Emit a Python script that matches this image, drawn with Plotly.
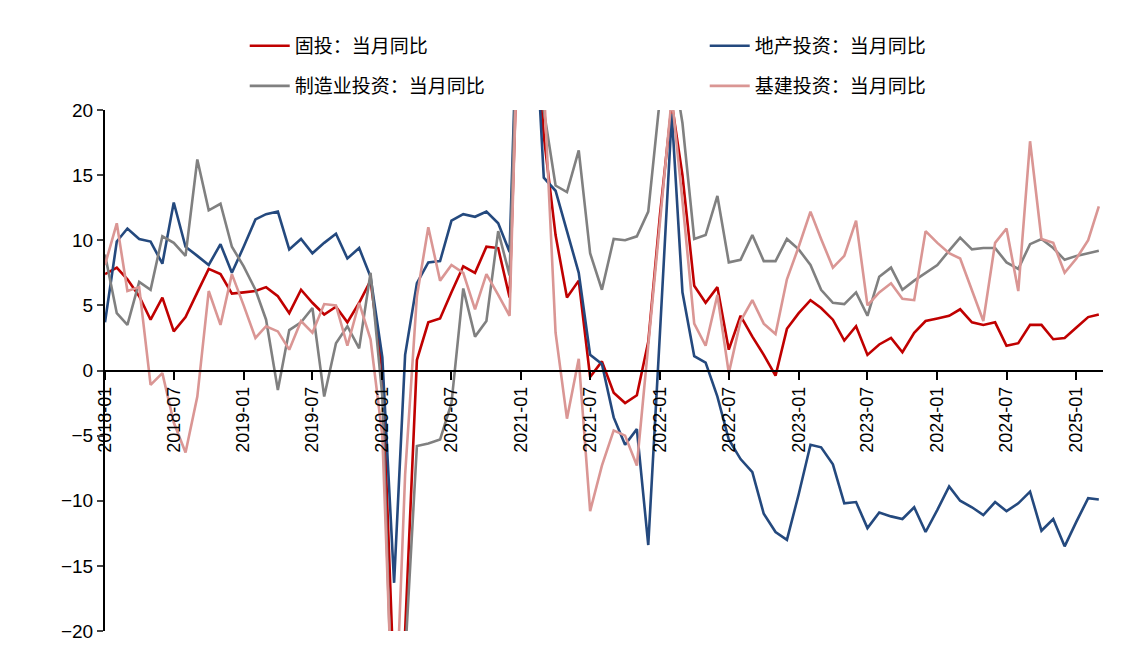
import pandas as pd
import plotly.graph_objects as go

months = pd.date_range("2018-01-01", periods=87, freq="MS")

fai = [7.4,7.9,7.0,5.7,3.9,5.6,3.0,4.1,6.0,7.8,7.4,5.9,
       6.0,6.1,6.4,5.7,4.4,6.2,5.2,4.3,4.9,3.7,5.2,6.9,
       0.0,-24.5,-20,0.8,3.7,4.0,6.0,8.0,7.5,9.5,9.4,5.6,
       35,30,18,10.4,5.6,6.9,-0.5,0.7,-1.7,-2.5,-1.9,2.2,
       12,20.5,15,6.5,5.2,6.4,1.6,4.2,2.6,1.2,-0.4,3.2,
       4.4,5.4,4.8,3.9,2.3,3.4,1.2,2.0,2.5,1.4,2.9,3.8,
       4.0,4.2,4.7,3.7,3.5,3.7,1.9,2.1,3.5,3.5,2.4,2.5,
       3.3,4.1,4.3]
prop = [3.7,9.9,10.9,10.1,9.9,8.2,12.9,9.5,8.8,8.1,9.7,7.5,
        9.5,11.6,12.0,12.2,9.3,10.1,9.0,9.8,10.5,8.6,9.4,7.2,
        1.0,-16.3,1.2,6.7,8.3,8.4,11.5,12.0,11.8,12.2,11.3,9.1,
        38,30,14.8,13.8,10.7,7.5,1.2,0.5,-3.6,-5.7,-4.5,-13.4,
        3,19.7,6.0,1.1,0.6,-2.0,-5.3,-6.8,-7.8,-11.0,-12.4,-13.0,
        -9.5,-5.7,-5.9,-7.2,-10.2,-10.1,-12.1,-10.9,-11.2,-11.4,-10.5,-12.4,
        -10.7,-8.9,-10.0,-10.5,-11.1,-10.1,-10.8,-10.2,-9.3,-12.3,-11.4,-13.5,
        -11.6,-9.8,-9.9]
manu = [8.9,4.4,3.5,6.8,6.2,10.3,9.8,8.8,16.2,12.3,12.8,9.5,
        8.0,6.2,3.9,-1.5,3.1,3.7,4.8,-2.0,2.1,3.4,1.7,7.5,
        -2,-31.5,-22,-5.8,-5.6,-5.3,-2.5,6.3,2.6,3.8,10.7,7.3,
        37,30,20,14.2,13.7,16.9,9.0,6.2,10.1,10.0,10.3,12.2,
        21,24,19,10.1,10.4,13.4,8.3,8.5,10.4,8.4,8.4,10.1,
        9.3,8.1,6.2,5.2,5.1,6.0,4.2,7.2,7.9,6.2,6.9,7.5,
        8.1,9.2,10.2,9.3,9.4,9.4,8.3,7.8,9.7,10.1,9.4,8.5,
        8.8,9.0,9.2]
infra = [8.1,11.3,6.1,6.4,-1.1,-0.2,-4.0,-6.3,-2.0,6.1,3.5,7.4,
         5.0,2.5,3.4,3.0,1.6,3.8,2.9,5.1,5.0,1.9,5.2,2.4,
         -5,-30,-8,5.7,11.0,6.9,8.1,7.5,4.7,7.4,5.8,4.2,
         36,30,22,2.9,-3.7,0.9,-10.8,-7.3,-4.6,-5.0,-7.3,2.0,
         11,21,13,3.6,1.9,5.8,-0.2,3.8,5.4,3.6,2.8,7.0,
         9.5,12.2,10.1,7.9,8.8,11.5,5.0,6.0,6.7,5.5,5.4,10.7,
         9.8,9.0,8.6,6.2,3.8,9.8,10.9,6.1,17.6,10.1,9.8,7.5,
         8.6,10.0,12.6]

names = ["固投：当月同比", "地产投资：当月同比", "制造业投资：当月同比", "基建投资：当月同比"]
colors = ["#C00000", "#24497E", "#808080", "#DA9694"]
series = [fai, prop, manu, infra]
legend_ids = ["legend", "legend", "legend2", "legend2"]

tick_dates = pd.date_range("2018-01-01", "2025-01-01", freq="6MS")
tick_text = [d.strftime("%Y-%m") for d in tick_dates]

fig = go.Figure()
for n, c, s, lg in zip(names, colors, series, legend_ids):
    fig.add_trace(go.Scatter(x=months, y=s, name=n, mode="lines", legend=lg,
                             line=dict(color=c, width=2.6)))

leg_common = dict(orientation="h", xanchor="left", yanchor="middle", entrywidth=405,
                  font=dict(family="Noto Sans CJK SC", size=19), itemwidth=40,
                  bgcolor="rgba(0,0,0,0)")
fig.update_layout(
    width=1123, height=649, plot_bgcolor="white", paper_bgcolor="white",
    margin=dict(l=97, r=28, t=102, b=26, autoexpand=False),
    font=dict(family="Liberation Sans, Arial", size=18, color="black"),
    legend=dict(x=0.14, y=1.123, **leg_common),
    legend2=dict(x=0.14, y=1.046, **leg_common),
    showlegend=True,
)
fig.update_xaxes(range=["2018-01-01", "2025-03-12"], tickvals=tick_dates, ticktext=tick_text,
                 tickangle=-90, showgrid=False, showline=True, linecolor="black", linewidth=2,
                 ticks="outside", ticklen=8, tickwidth=2, tickcolor="black",
                 anchor="free", position=0.5, tickfont=dict(size=18))
fig.update_yaxes(range=[-20, 20], tickvals=[-20, -15, -10, -5, 0, 5, 10, 15, 20],
                 ticktext=["−20", "−15", "−10", "−5", "0", "5", "10", "15", "20"],
                 showgrid=False, zeroline=False, showline=True, linecolor="black", linewidth=2,
                 ticks="outside", ticklen=6, tickwidth=2, tickfont=dict(size=19))
fig.write_html("out.html")
